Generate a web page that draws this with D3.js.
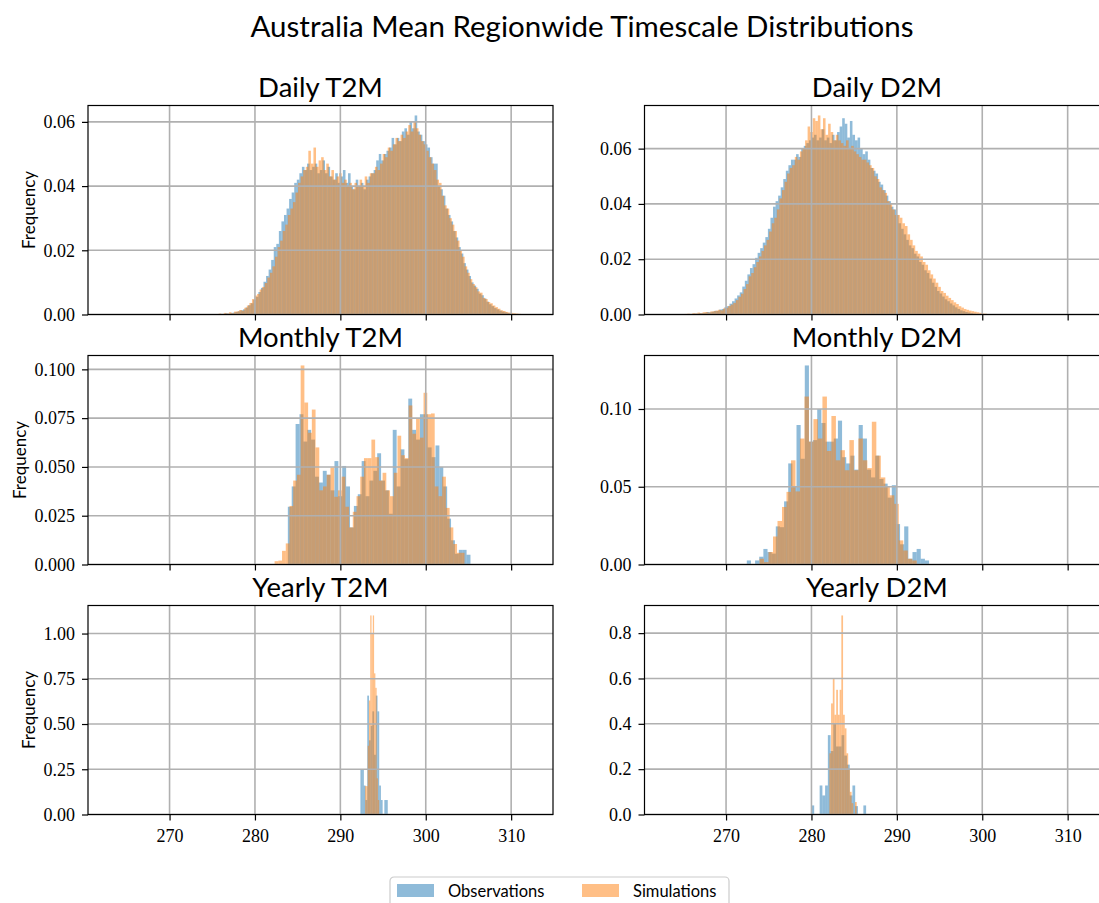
<!DOCTYPE html>
<html>
<head>
<meta charset="utf-8">
<script src="https://cdn.jsdelivr.net/npm/d3@7"></script>
<style>
  body { margin: 0; background: #fff; }
  svg { display: block; }
</style>
</head>
<body>
<div id="chart"></div>
<script>
// histogram heights are in per-mille of frequency (density), bins = [first edge, bin width]
const dailyT2mObsBins = [275.6, 0.3];
const dailyT2mObs = [0, 0.2, 0.2, 0.4, 0.3, 0.5, 0.6, 0.8, 1.0, 1.3,
  1.6, 2.2, 2.9, 3.5, 4.6, 5.5, 7.0, 8.3, 10.2, 12.0,
  14, 17, 21, 22, 26, 29, 31, 33, 36, 38,
  41, 42, 44, 46, 45, 47, 45, 46, 47, 44,
  45, 48, 44, 46, 43, 42, 44, 41, 43, 45,
  41, 44, 40, 39, 42, 40, 41, 39, 42, 43,
  44, 45, 48, 50, 48, 50, 51, 52, 55, 53,
  55, 54, 57, 58, 56, 60, 58, 62, 57, 56,
  54, 53, 52, 49, 47, 47, 40, 39, 37, 33,
  31, 29, 26, 24, 21, 19, 16, 14, 12, 10,
  9, 8, 6.5, 6, 5, 4, 3.2, 2.6, 2, 1.6,
  1.2, 0.9, 0.7, 0.5, 0.3, 0.2, 0.1, 0];
const dailyT2mSimBins = [275.75, 0.3];
const dailyT2mSim = [0.3, 0, 0.5, 0.3, 0.7, 0.4, 0.9, 1.0, 1.4, 1.2,
  2.1, 2.8, 3.6, 4.8, 5.9, 6.4, 7.8, 8.6, 9.8, 11.5,
  13, 15, 18, 21, 23, 26, 28, 31, 33, 35,
  38, 41, 43, 45, 46, 51, 47, 52, 46, 48,
  49, 45, 47, 43, 45, 42, 43, 44, 41, 42,
  40, 41, 39, 41, 40, 42, 40, 43, 41, 44,
  44, 46, 45, 47, 50, 49, 52, 51, 53, 55,
  54, 56, 55, 57, 59, 57, 60, 58, 56, 54,
  53, 51, 49, 47, 45, 42, 41, 37, 34, 33,
  30, 28, 26, 23, 20, 18, 15, 13, 11, 9.5,
  8.5, 7.2, 6.8, 5.2, 4.8, 3.9, 3.5, 2.8, 2.3, 1.8,
  1.3, 1.1, 0.8, 0.6, 0.5, 0.4, 0.3, 0.2];

const dailyD2mObsBins = [265.0, 0.3];
const dailyD2mObs = [0, 0, 0.2, 0.2, 0.3, 0.3, 0.5, 0.5, 0.6, 0.9,
  0.8, 1.0, 1.3, 1.3, 1.8, 2.0, 2.6, 3.0, 3.9, 4.8,
  5.8, 6.9, 8.0, 10.1, 12.2, 14.5, 16.8, 18.2, 20.5, 22.3,
  24, 26, 28, 31, 35, 39, 41, 43, 46, 49,
  52, 54, 56, 56, 58, 57, 60, 61, 62, 63,
  64, 65, 63, 64, 67, 63, 64, 62, 65, 63,
  66, 68, 71, 69, 64, 70, 65, 63, 64, 60,
  58, 59, 56, 53, 52, 51, 48, 47, 45, 43,
  41, 39, 38, 36, 33, 31, 29, 27, 25, 24,
  22, 21, 19, 18, 16, 15, 13, 11.5, 10, 8.5,
  7.6, 6.5, 5.5, 4.8, 4.0, 3.3, 2.6, 2.0, 1.5, 1.2,
  0.9, 0.7, 0.5, 0.3, 0.2, 0.1, 0, 0];
const dailyD2mSimBins = [265.15, 0.3];
const dailyD2mSim = [0.2, 0.3, 0.2, 0.5, 0.4, 0.7, 0.5, 0.8, 0.9, 0.7,
  1.1, 1.2, 1.4, 1.7, 1.5, 2.2, 2.4, 3.1, 3.6, 4.2,
  5.2, 6.4, 7.5, 9.2, 11.0, 13.8, 15.0, 17.1, 19.0, 21.0,
  23, 25, 27, 30, 33, 35, 38, 42, 45, 48,
  51, 53, 54, 57, 56, 59, 60, 63, 68, 66,
  71, 70, 72, 67, 71, 65, 69, 66, 63, 65,
  63, 62, 61, 63, 60, 61, 59, 58, 57, 56,
  56, 55, 54, 53, 50, 49, 46, 45, 44, 41,
  40, 38, 36, 36, 35, 33, 32, 29, 27, 25,
  23, 22, 21, 19, 18, 16, 14.5, 13, 11.5, 10,
  8.5, 7.8, 6.8, 6.0, 5.2, 4.4, 3.8, 3.0, 2.5, 2.0,
  1.7, 1.4, 1.2, 1.0, 0.8, 0.6, 0.4, 0.3];

const monthlyT2mObsBins = [283.85, 0.455];
const monthlyT2mObs = [29.6, 40, 72, 77, 63, 69, 64, 45, 42, 48, 46, 38, 53, 35, 50.5, 40,
  19, 30, 36, 53, 35, 43, 48, 57, 43, 38, 26, 69, 40, 59, 54, 85, 69, 64, 77, 77,
  60, 55, 61, 50, 40, 23.5, 12.4, 5.5, 7.5, 7.5, 5];
const monthlyT2mSimBins = [282.3, 0.436];
const monthlyT2mSim = [1.7, 2, 7, 10.8, 30, 43, 46, 102, 83, 67.5, 79.4, 60, 38, 40, 46, 49.7,
  34.7, 38, 45, 29.6, 19, 27, 35, 45, 54.5, 54.5, 64, 55, 43, 47, 38, 35, 47, 66, 56,
  54.5, 81.5, 67, 75, 65, 88, 77, 77.4, 40, 35, 45, 29, 19, 10.5, 6, 6];

const monthlyD2mObsBins = [272.43, 0.485];
const monthlyD2mObs = [2.6, 0, 2.6, 5, 10, 8, 7, 24.5, 24, 40.6, 65, 50, 89.7, 68, 128, 79,
  80, 100, 91, 79, 79, 81, 92.5, 69, 65, 70, 61, 89.7, 81, 61, 56, 70, 55, 52, 43, 51,
  26, 13, 24.5, 3.7, 8, 10, 3.7, 2.6];
const monthlyD2mSimBins = [273.92, 0.526];
const monthlyD2mSim = [3.7, 1.5, 8, 18, 28, 37, 46.7, 67, 47, 81, 108, 79, 93.5, 81, 108, 73,
  95.5, 67, 73.5, 60.6, 80, 60.6, 81, 67, 62, 91.8, 70, 56, 50, 44.5, 39, 15.5, 9, 3.7, 2.6];

const yearlyT2mObsBins = [292.35, 0.2];
const yearlyT2mObs = [246, 246, 160, 80, 657, 410, 490, 570, 330, 657, 570, 160, 80, 0, 80, 80];
const yearlyT2mSimBins = [292.9, 0.15];
const yearlyT2mSim = [157, 157, 380, 630, 1100, 1000, 1100, 780, 700, 200, 80];

const yearlyD2mObsBins = [280.0, 0.32];
const yearlyD2mObs = [40, 0, 0, 128, 84, 128, 350, 280, 400, 300, 300, 350, 260, 220, 84, 128, 37, 0, 0, 40];
const yearlyD2mSimBins = [282.1, 0.2];
const yearlyD2mSim = [270, 490, 600, 440, 550, 440, 550, 878, 440, 380, 270, 200, 100, 50, 0, 55];

const panelTitles = ["Daily T2M", "Daily D2M", "Monthly T2M", "Monthly D2M", "Yearly T2M", "Yearly D2M"];
const xLimits = [260.45, 314.9];
const xTicks = [270, 280, 290, 300, 310];
const dailyT2mTicks = [0, 0.02, 0.04, 0.06];
const dailyD2mTicks = [0, 0.02, 0.04, 0.06];
const monthlyT2mTicks = [0, 0.025, 0.05, 0.075, 0.1];
const monthlyD2mTicks = [0, 0.05, 0.1];
const yearlyT2mTicks = [0, 0.25, 0.5, 0.75, 1.0];
const yearlyD2mTicks = [0, 0.2, 0.4, 0.6, 0.8];
const seriesNames = ["Observations", "Simulations"];

const width = 1099, height = 903;
const colors = ["#1f77b4", "#ff7f0e"];
const colLeft = [88, 644.5], plotW = 465;
const rowTop = [105.5, 355.5, 605.5], plotH = 209;
const serifFont = "'Liberation Serif', serif";
const sansFont = "Lato, 'DejaVu Sans', sans-serif";

function hist(bins, values) {
    return values.map((v, i) => ({
        x0: bins[0] + i * bins[1],
        x1: bins[0] + (i + 1) * bins[1],
        v: v / 1000
    }));
}

const panels = [
    { obs: hist(dailyT2mObsBins, dailyT2mObs), sim: hist(dailyT2mSimBins, dailyT2mSim), ticks: dailyT2mTicks, fmt: ".2f" },
    { obs: hist(dailyD2mObsBins, dailyD2mObs), sim: hist(dailyD2mSimBins, dailyD2mSim), ticks: dailyD2mTicks, fmt: ".2f" },
    { obs: hist(monthlyT2mObsBins, monthlyT2mObs), sim: hist(monthlyT2mSimBins, monthlyT2mSim), ticks: monthlyT2mTicks, fmt: ".3f" },
    { obs: hist(monthlyD2mObsBins, monthlyD2mObs), sim: hist(monthlyD2mSimBins, monthlyD2mSim), ticks: monthlyD2mTicks, fmt: ".2f" },
    { obs: hist(yearlyT2mObsBins, yearlyT2mObs), sim: hist(yearlyT2mSimBins, yearlyT2mSim), ticks: yearlyT2mTicks, fmt: ".2f" },
    { obs: hist(yearlyD2mObsBins, yearlyD2mObs), sim: hist(yearlyD2mSimBins, yearlyD2mSim), ticks: yearlyD2mTicks, fmt: ".1f" }
];

const svg = d3.select("#chart")
    .append("svg")
    .attr("width", width)
    .attr("height", height);

svg.append("text")
    .attr("x", 582)
    .attr("y", 37)
    .attr("text-anchor", "middle")
    .attr("font-family", sansFont)
    .attr("font-size", 29.5)
    .attr("fill", "#000")
    .text("Australia Mean Regionwide Timescale Distributions");

const x = d3.scaleLinear().domain(xLimits).range([0, plotW]);

panels.forEach((p, k) => {
    const row = Math.floor(k / 2), col = k % 2;
    const g = svg.append("g")
        .attr("transform", `translate(${colLeft[col]},${rowTop[row]})`);

    // matplotlib leaves a 5% margin above the tallest bar
    const ymax = d3.max([...p.obs, ...p.sim], d => d.v) * 1.05;
    const y = d3.scaleLinear().domain([0, ymax]).range([plotH, 0]);

    [p.obs, p.sim].forEach((bins, s) => {
        g.append("g")
            .selectAll("rect")
            .data(bins.filter(d => d.v > 0))
            .join("rect")
            .attr("x", d => x(d.x0))
            .attr("width", d => x(d.x1) - x(d.x0))
            .attr("y", d => y(d.v))
            .attr("height", d => plotH - y(d.v))
            .attr("fill", colors[s])
            .attr("fill-opacity", 0.5);
    });

    // grid sits above the bars, as in matplotlib
    const grid = g.append("g").attr("stroke", "#b0b0b0").attr("stroke-width", 1.6);
    grid.selectAll(".gx")
        .data(xTicks)
        .join("line")
        .attr("x1", d => x(d)).attr("x2", d => x(d))
        .attr("y1", 0).attr("y2", plotH);
    grid.selectAll(".gy")
        .data(p.ticks)
        .join("line")
        .attr("x1", 0).attr("x2", plotW)
        .attr("y1", d => y(d)).attr("y2", d => y(d));

    const xAxis = g.append("g")
        .attr("transform", `translate(0,${plotH})`)
        .call(d3.axisBottom(x)
            .tickValues(xTicks)
            .tickSize(6)
            .tickPadding(9)
            .tickFormat(row === 2 ? d3.format("d") : ""));
    const yAxis = g.append("g")
        .call(d3.axisLeft(y)
            .tickValues(p.ticks)
            .tickSize(6)
            .tickPadding(7)
            .tickFormat(d3.format(p.fmt)));

    [xAxis, yAxis].forEach(a => {
        a.select(".domain").remove();
        a.selectAll(".tick line").attr("stroke", "#000").attr("stroke-width", 1.2);
        a.selectAll(".tick text")
            .attr("fill", "#000")
            .attr("font-family", serifFont)
            .attr("font-size", 18);
    });

    g.append("rect")
        .attr("width", plotW)
        .attr("height", plotH)
        .attr("fill", "none")
        .attr("stroke", "#000")
        .attr("stroke-width", 1.2);

    g.append("text")
        .attr("x", plotW / 2)
        .attr("y", -9)
        .attr("text-anchor", "middle")
        .attr("font-family", sansFont)
        .attr("font-size", 27.5)
        .attr("fill", "#000")
        .text(panelTitles[k]);

    if (col === 0) {
        // y label sits just left of the widest tick label
        let labelLeft = 0;
        yAxis.selectAll(".tick text").each(function() {
            labelLeft = Math.min(labelLeft, this.getBBox().x);
        });
        g.append("text")
            .attr("transform", `translate(${labelLeft - 14},${plotH / 2}) rotate(-90)`)
            .attr("dy", "0.35em")
            .attr("text-anchor", "middle")
            .attr("font-family", sansFont)
            .attr("font-size", 17)
            .attr("fill", "#000")
            .text("Frequency");
    }
});

// legend
const legend = svg.append("g").attr("transform", "translate(390,877)");
legend.append("rect")
    .attr("width", 339)
    .attr("height", 40)
    .attr("rx", 4)
    .attr("fill", "#fff")
    .attr("stroke", "#cccccc")
    .attr("stroke-width", 1.2);
const items = legend.selectAll(".item")
    .data(seriesNames)
    .join("g")
    .attr("transform", (d, i) => `translate(${[7, 192][i]},0)`);
items.append("rect")
    .attr("y", 7)
    .attr("width", 37)
    .attr("height", 13)
    .attr("fill", (d, i) => colors[i])
    .attr("fill-opacity", 0.5);
items.append("text")
    .attr("x", 51)
    .attr("y", 20)
    .attr("font-family", sansFont)
    .attr("font-size", 16.5)
    .attr("fill", "#000")
    .text(d => d);
</script>
</body>
</html>
